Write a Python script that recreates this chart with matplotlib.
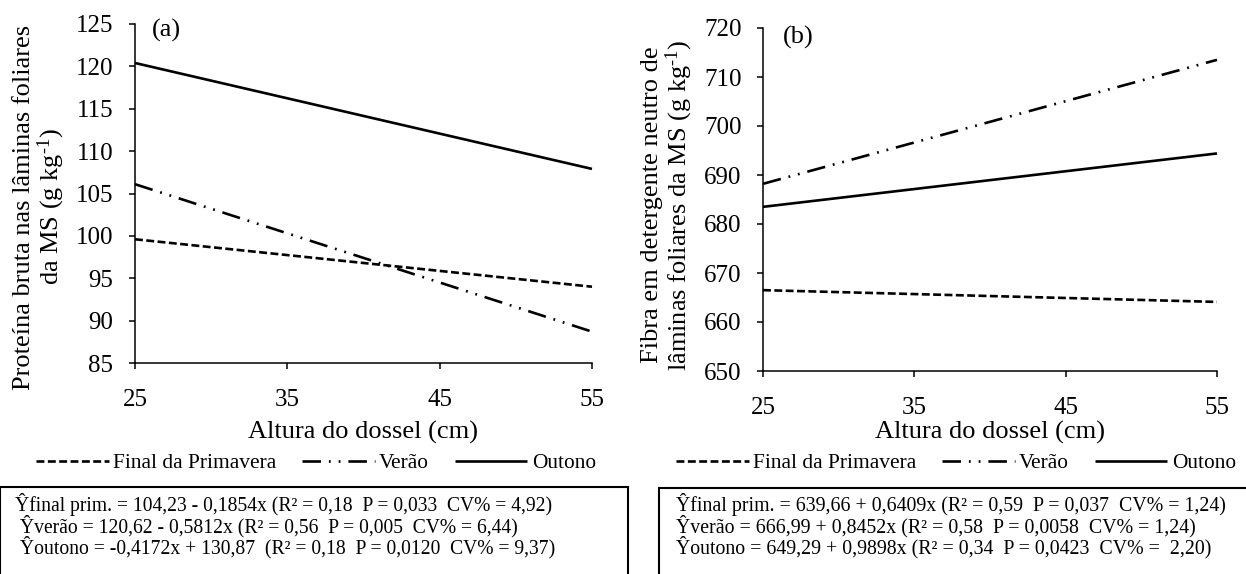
import matplotlib
matplotlib.use("Agg")
import matplotlib.pyplot as plt
from matplotlib.patches import Rectangle

plt.rcParams['font.family'] = ['Liberation Serif', 'DejaVu Serif']
plt.rcParams['mathtext.fontset'] = 'custom'
plt.rcParams['mathtext.rm'] = 'Liberation Serif'
plt.rcParams['mathtext.it'] = 'Liberation Serif:italic'

# altura do dossel (cm)
heights = [25, 55]
x_ticks = [25, 35, 45, 55]

# (a) proteina bruta (g/kg)
pb_final = [99.6, 94.0]
pb_verao = [106.1, 88.7]
pb_outono = [120.4, 107.9]
pb_ticks = [85, 90, 95, 100, 105, 110, 115, 120, 125]

# (b) FDN (g/kg)
fdn_final = [666.5, 664.1]
fdn_verao = [688.2, 713.5]
fdn_outono = [683.5, 694.4]
fdn_ticks = [650, 660, 670, 680, 690, 700, 710, 720]

series_names = ["Final da Primavera", "Verão", "Outono"]

eq_a = ["Ŷfinal prim. = 104,23 - 0,1854x (R² = 0,18  P = 0,033  CV% = 4,92)",
        " Ŷverão = 120,62 - 0,5812x (R² = 0,56  P = 0,005  CV% = 6,44)",
        " Ŷoutono = -0,4172x + 130,87  (R² = 0,18  P = 0,0120  CV% = 9,37)"]
eq_b = ["Ŷfinal prim. = 639,66 + 0,6409x (R² = 0,59  P = 0,037  CV% = 1,24)",
        "Ŷverão = 666,99 + 0,8452x (R² = 0,58  P = 0,0058  CV% = 1,24)",
        "Ŷoutono = 649,29 + 0,9898x (R² = 0,34  P = 0,0423  CV% =  2,20)"]

W, H = 1246, 574
fig = plt.figure(figsize=(W / 100, H / 100), dpi=100)


def fx(x):
    return x / W


def fy(y):
    return 1 - y / H


styles = [dict(linestyle=(0, (3, 1.3))),
          dict(linestyle=(0, (7, 3, 0.7, 3, 0.7, 3))),
          dict(linestyle='-')]


def panel(rect, ys, ticks):
    x0, y0, x1, y1 = rect
    ax = fig.add_axes([fx(x0), fy(y1), fx(x1 - x0), (y1 - y0) / H])
    lines = []
    for vals, st, name in zip(ys, styles, series_names):
        ln, = ax.plot(heights, vals, color='black', lw=1.9, label=name,
                      clip_on=False, solid_capstyle='butt', dash_capstyle='butt', **st)
        lines.append(ln)
    ax.set_xlim(25, 55)
    ax.set_ylim(ticks[0], ticks[-1])
    ax.set_xticks(x_ticks)
    ax.set_yticks(ticks)
    for s in ['top', 'right']:
        ax.spines[s].set_visible(False)
    for s in ['left', 'bottom']:
        ax.spines[s].set_linewidth(1.1)
    ax.tick_params(direction='out', length=4.5, width=1.1, labelsize=18)
    ax.tick_params(axis='y', pad=11)
    ax.tick_params(axis='x', pad=14)
    return ax, lines


ax1, lines = panel((135, 24, 592, 363), [pb_final, pb_verao, pb_outono], pb_ticks)
ax2, _ = panel((763, 28, 1217, 371), [fdn_final, fdn_verao, fdn_outono], fdn_ticks)

fig.text(fx(152), fy(30), "(a)", fontsize=19, va='center', ha='left')
fig.text(fx(783), fy(37), "(b)", fontsize=19, va='center', ha='left')

fig.text(fx(40), fy(207), "Proteína bruta nas lâminas foliares\nda MS (g kg$^{\\text{-1}}$)",
         rotation=90, fontsize=19, ha='center', va='center', multialignment='center',
         linespacing=1.0)
fig.text(fx(668), fy(205), "Fibra em detergente neutro de\nlâminas foliares da MS (g kg$^{\\text{-1}}$)",
         rotation=90, fontsize=19, ha='center', va='center', multialignment='center',
         linespacing=1.0)

fig.text(fx(363), fy(432), "Altura do dossel (cm)", fontsize=19, ha='center', va='center')
fig.text(fx(990), fy(432), "Altura do dossel (cm)", fontsize=19, ha='center', va='center')

for cx in [316, 956]:
    fig.legend(lines, series_names, loc='center', bbox_to_anchor=(fx(cx), fy(463)),
               ncol=3, frameon=False, fontsize=15.4, handlelength=3.4,
               columnspacing=1.2, handletextpad=0.2, borderpad=0)

fig.patches.append(Rectangle((fx(0), fy(600)), fx(628), (600 - 487) / H,
                             transform=fig.transFigure, fill=False, lw=1.5, ec='black'))
fig.patches.append(Rectangle((fx(659), fy(600)), fx(620), (600 - 488) / H,
                             transform=fig.transFigure, fill=False, lw=1.5, ec='black'))

for i, t in enumerate(eq_a):
    fig.text(fx(15), fy(505 + 21 * i), t, fontsize=14.1, ha='left', va='center')
for i, t in enumerate(eq_b):
    fig.text(fx(676), fy(505 + 21 * i), t, fontsize=14.3, ha='left', va='center')

fig.savefig("out.png", dpi=100)
